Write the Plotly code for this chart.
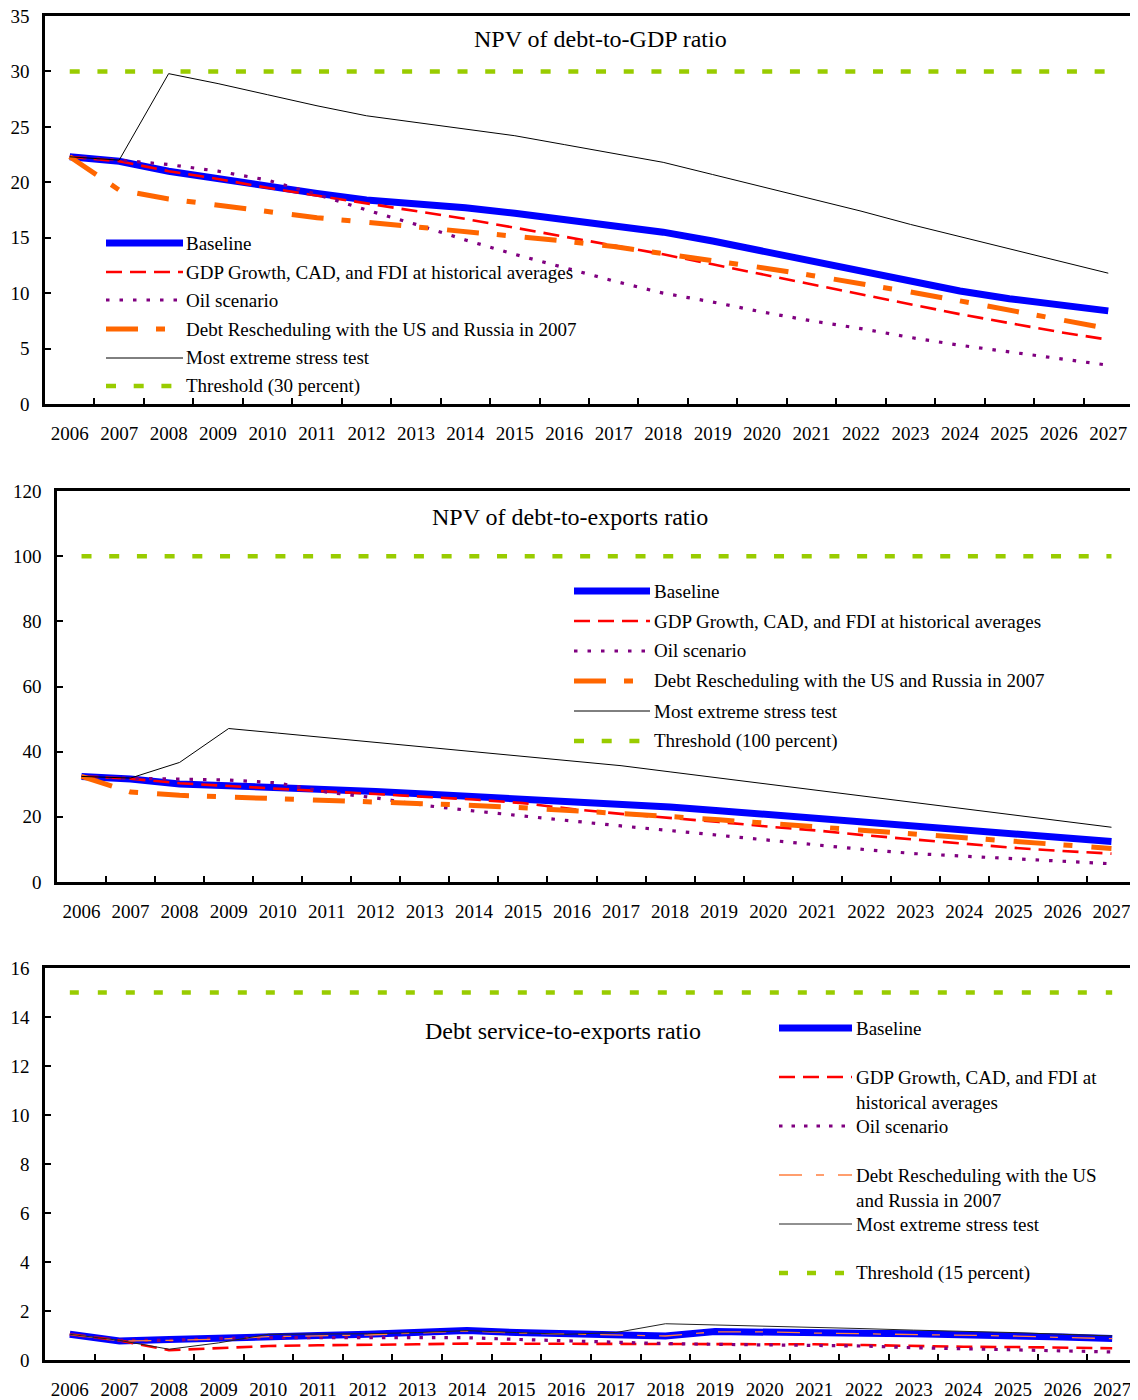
import plotly.graph_objects as go

# The page body has an 8px default margin; the figure is sized and positioned so that the
# picture lands on the 1138x1400 window coordinates used below.
WIN_W, WIN_H = 1138, 1400
OFF = 8
W, H = WIN_W - OFF, WIN_H - OFF
FONT = "Liberation Serif"

years = ["2006", "2007", "2008", "2009", "2010", "2011", "2012", "2013", "2014", "2015", "2016",
         "2017", "2018", "2019", "2020", "2021", "2022", "2023", "2024", "2025", "2026", "2027"]

series_names = ["Baseline", "GDP Growth, CAD, and FDI at historical averages", "Oil scenario",
                "Debt Rescheduling with the US and Russia in 2007", "Most extreme stress test"]

# Panel 1: NPV of debt-to-GDP ratio
gdp_baseline = [22.3, 21.9, 21.0, 20.3, 19.7, 19.0, 18.4, 18.1, 17.7, 17.2, 16.6, 16.1, 15.5, 14.7, 13.8, 12.9, 12.0, 11.1, 10.2, 9.5, 8.9, 8.4]
gdp_hist = [22.3, 21.9, 21.0, 20.3, 19.5, 18.8, 18.1, 17.4, 16.7, 15.9, 15.1, 14.3, 13.5, 12.6, 11.7, 10.8, 9.9, 9.0, 8.1, 7.3, 6.5, 5.8]
gdp_oil = [22.3, 22.0, 21.6, 21.0, 20.2, 18.9, 17.5, 16.2, 14.8, 13.5, 12.3, 11.1, 10.0, 9.2, 8.3, 7.5, 6.8, 6.0, 5.3, 4.7, 4.1, 3.5]
gdp_resched = [22.3, 19.3, 18.5, 17.9, 17.3, 16.8, 16.4, 16.0, 15.6, 15.2, 14.7, 14.2, 13.6, 13.0, 12.3, 11.6, 10.9, 10.1, 9.3, 8.5, 7.7, 6.8]
gdp_stress = [22.3, 22.0, 29.8, 28.9, 27.9, 26.9, 26.0, 25.4, 24.8, 24.2, 23.4, 22.6, 21.8, 20.7, 19.6, 18.5, 17.4, 16.2, 15.1, 14.0, 12.9, 11.8]
gdp_threshold = [30] * 22

# Panel 2: NPV of debt-to-exports ratio
exp_baseline = [32.4, 31.6, 30.1, 29.6, 29.1, 28.3, 27.8, 27.0, 26.2, 25.7, 24.8, 24.0, 23.0, 21.9, 20.7, 19.4, 18.1, 16.8, 15.6, 14.5, 13.5, 12.4]
exp_hist = [32.4, 31.7, 30.3, 29.4, 28.6, 27.8, 27.0, 26.2, 25.3, 24.2, 22.4, 20.9, 19.7, 18.4, 17.0, 15.8, 14.3, 13.0, 11.7, 10.5, 9.5, 8.7]
exp_oil = [32.4, 31.8, 31.6, 31.3, 30.4, 27.6, 25.8, 23.5, 21.8, 20.2, 18.6, 17.2, 15.8, 14.3, 12.8, 11.2, 9.9, 8.7, 7.9, 7.1, 6.3, 5.6]
exp_resched = [32.4, 27.6, 26.6, 26.1, 25.8, 25.2, 24.8, 24.2, 23.5, 22.8, 22.0, 21.0, 20.1, 19.1, 18.0, 16.9, 15.7, 14.6, 13.5, 12.5, 11.4, 10.3]
exp_stress = [32.4, 31.9, 36.7, 47.1, 45.7, 44.3, 42.8, 41.4, 40.0, 38.6, 37.1, 35.7, 33.8, 31.9, 30.0, 28.2, 26.3, 24.4, 22.5, 20.6, 18.7, 16.8]
exp_threshold = [100] * 22

# Panel 3: Debt service-to-exports ratio
ds_baseline = [1.05, 0.78, 0.84, 0.91, 1.0, 1.0, 1.05, 1.12, 1.2, 1.12, 1.07, 1.05, 0.98, 1.16, 1.16, 1.12, 1.09, 1.07, 1.05, 1.0, 0.94, 0.88]
ds_hist = [1.05, 0.8, 0.4, 0.5, 0.57, 0.6, 0.61, 0.64, 0.67, 0.67, 0.66, 0.67, 0.64, 0.64, 0.64, 0.64, 0.61, 0.57, 0.54, 0.53, 0.5, 0.48]
ds_oil = [1.05, 0.8, 0.8, 0.88, 0.91, 0.91, 0.91, 0.94, 0.91, 0.84, 0.78, 0.71, 0.67, 0.64, 0.61, 0.6, 0.57, 0.5, 0.46, 0.44, 0.37, 0.33]
ds_resched = [1.05, 0.78, 0.8, 0.85, 0.95, 0.98, 1.02, 1.1, 1.18, 1.1, 1.05, 1.02, 0.98, 1.15, 1.15, 1.1, 1.07, 1.05, 1.03, 0.98, 0.92, 0.87]
ds_stress = [1.05, 0.8, 0.44, 0.7, 1.05, 1.05, 1.07, 1.12, 1.2, 1.12, 1.05, 1.12, 1.48, 1.43, 1.39, 1.32, 1.28, 1.22, 1.18, 1.12, 1.05, 0.98]
ds_threshold = [15] * 22

titles = ["NPV of debt-to-GDP ratio", "NPV of debt-to-exports ratio", "Debt service-to-exports ratio"]
threshold_names = ["Threshold (30 percent)", "Threshold (100 percent)", "Threshold (15 percent)"]
y_ranges = [[0, 35], [0, 120], [0, 16]]
y_dticks = [5, 20, 2]

BLUE, RED, PURPLE, ORANGE, BLACK, GREEN = "#0000FF", "#FF0000", "#800080", "#FF6600", "#000000", "#99CC00"

styles_main = [
    dict(color=BLUE, width=7, dash="solid"),
    dict(color=RED, width=2.6, dash="16px,8px"),
    dict(color=PURPLE, width=3.2, dash="3.5px,10px"),
    dict(color=ORANGE, width=5, dash="32px,18px,9px,19px"),
    dict(color=BLACK, width=1, dash="solid"),
    dict(color=GREEN, width=4.5, dash="10px,17.7px"),
]
styles_ds = [
    dict(color=BLUE, width=7, dash="solid"),
    dict(color=RED, width=2.6, dash="16px,8px"),
    dict(color=PURPLE, width=3.2, dash="3.5px,9px"),
    dict(color="#FF7F3F", width=1.3, dash="23px,14px,8px,14px"),
    dict(color="#222222", width=1, dash="solid"),
    dict(color=GREEN, width=4.5, dash="9px,19px"),
]

panels = [
    dict(data=[gdp_baseline, gdp_hist, gdp_oil, gdp_resched, gdp_stress, gdp_threshold], styles=styles_main,
         box=(45, 16, 1133, 404)),
    dict(data=[exp_baseline, exp_hist, exp_oil, exp_resched, exp_stress, exp_threshold], styles=styles_main,
         box=(57, 491, 1136, 882)),
    dict(data=[ds_baseline, ds_hist, ds_oil, ds_resched, ds_stress, ds_threshold], styles=styles_ds,
         box=(45, 968, 1137, 1360)),
]


def PX(x):
    return (x - OFF) / W


def PY(y):
    return 1 - (y - OFF) / H


fig = go.Figure()
layout = {}
for i, p in enumerate(panels):
    k = "" if i == 0 else str(i + 1)
    x0, y0, x1, y1 = p["box"]
    names = series_names + [threshold_names[i]]
    for vals, st, nm in zip(p["data"], p["styles"], names):
        fig.add_trace(go.Scatter(x=years, y=vals, mode="lines", name=nm, showlegend=False,
                                 line=dict(color=st["color"], width=st["width"], dash=st["dash"]),
                                 xaxis="x" + k, yaxis="y" + k, hoverinfo="skip"))
    layout["xaxis" + k] = dict(domain=[PX(x0), min(1.0, PX(x1))], anchor="y" + k, type="category",
                               range=[-0.5, 21.5], tickson="boundaries", ticks="inside", ticklen=6,
                               tickwidth=1.5, tickcolor="black", showline=True, linecolor="black",
                               linewidth=2.5, mirror=True, showgrid=False, zeroline=False,
                               automargin=False, ticklabeloverflow="allow",
                               tickfont=dict(family=FONT, size=19, color="black"),
                               ticklabelstandoff=10)
    layout["yaxis" + k] = dict(domain=[PY(y1), PY(y0)], anchor="x" + k, range=y_ranges[i],
                               dtick=y_dticks[i], ticks="inside", ticklen=6, tickwidth=1.5,
                               tickcolor="black", showline=True, linecolor="black", linewidth=2.5,
                               mirror=True, showgrid=False, zeroline=False, automargin=False,
                               ticklabeloverflow="allow",
                               tickfont=dict(family=FONT, size=19, color="black"),
                               ticklabelstandoff=9)

fig.update_layout(template="none", width=W, height=H, margin=dict(l=0, r=0, t=0, b=0, pad=0),
                  plot_bgcolor="white", paper_bgcolor="white", showlegend=False, **layout)

shapes = []
annotations = []


def add_text(x, y, text, size=19, xanchor="left", yanchor="middle"):
    annotations.append(dict(x=PX(x), y=PY(y), xref="paper", yref="paper", text=text, showarrow=False,
                            xanchor=xanchor, yanchor=yanchor, align="left",
                            font=dict(family=FONT, size=size, color="black")))


def add_sample(xa, xb, y, st):
    shapes.append(dict(type="line", xref="paper", yref="paper", x0=PX(xa), x1=PX(xb), y0=PY(y), y1=PY(y),
                       line=dict(color=st["color"], width=st["width"], dash=st["dash"])))


# Titles
add_text(600, 39, titles[0], size=24, xanchor="center")
add_text(570, 517, titles[1], size=24, xanchor="center")
add_text(563, 1031, titles[2], size=24, xanchor="center")

# Legend panel 1
rows1 = [243, 272, 300, 329, 358, 386]
names1 = series_names + [threshold_names[0]]
for y, nm, st in zip(rows1, names1, styles_main):
    add_sample(106, 183, y, st)
    add_text(184, y, nm)

# Legend panel 2
rows2 = [591, 621, 651, 681, 711, 741]
names2 = series_names + [threshold_names[1]]
for y, nm, st in zip(rows2, names2, styles_main):
    add_sample(574, 650, y, st)
    add_text(652, y, nm)

# Legend panel 3
rows3 = [1028, 1077, 1126, 1175, 1224, 1273]
names3 = ["Baseline", "GDP Growth, CAD, and FDI at<br>historical averages", "Oil scenario",
          "Debt Rescheduling with the US<br>and Russia in 2007", "Most extreme stress test",
          threshold_names[2]]
for y, nm, st in zip(rows3, names3, styles_ds):
    add_sample(779, 852, y, st)
    if "<br>" in nm:
        add_text(854, y - 12, nm, yanchor="top")
    else:
        add_text(854, y, nm)

fig.update_layout(shapes=shapes, annotations=annotations)
fig.write_html("out.html")
